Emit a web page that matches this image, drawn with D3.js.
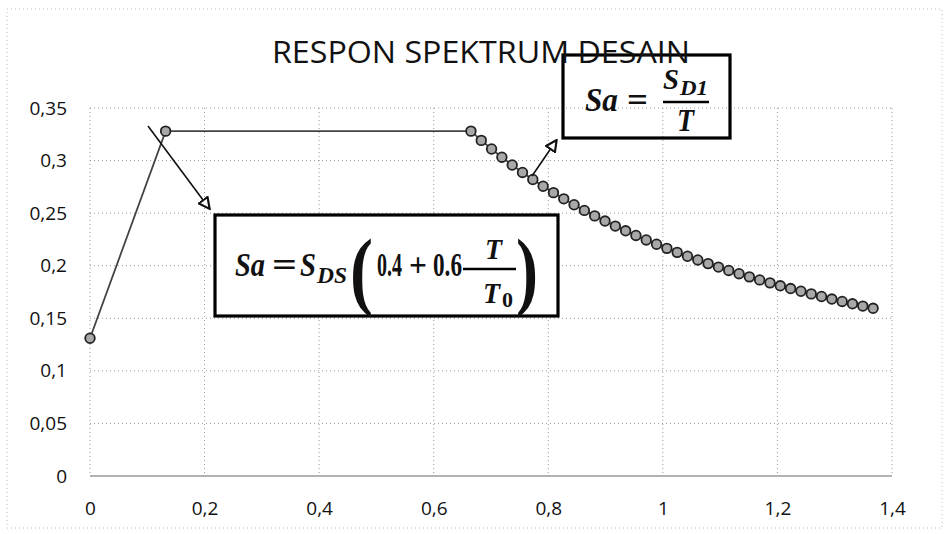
<!DOCTYPE html>
<html>
<head>
<meta charset="utf-8">
<script src="https://cdn.jsdelivr.net/npm/d3@7"></script>
<style>
  html, body { margin: 0; padding: 0; background: #fff; }
  svg { display: block; }
  .tick text { font-family: "Open Sans", sans-serif; font-size: 19px; fill: #111; }
  .math { font-family: "Liberation Serif", serif; font-weight: bold; font-style: italic; fill: #111; }
  .mathup { font-family: "Liberation Serif", serif; font-weight: bold; fill: #111; }
</style>
</head>
<body>
<svg id="chart" width="948" height="534"></svg>
<script>
// ---- Data ----
const chartTitle = "RESPON SPEKTRUM DESAIN";
const periodT = [0, 0.132, 0.665, 0.683, 0.701, 0.719, 0.737, 0.755, 0.773, 0.791, 0.809, 0.827,
  0.845, 0.863, 0.881, 0.899, 0.917, 0.935, 0.953, 0.971, 0.989, 1.007, 1.025, 1.043, 1.061,
  1.079, 1.097, 1.115, 1.133, 1.151, 1.169, 1.187, 1.205, 1.223, 1.241, 1.259, 1.277, 1.295,
  1.313, 1.331, 1.349, 1.367];
const spectralSa = [0.131, 0.328, 0.328, 0.3192, 0.3110, 0.3032, 0.2958, 0.2887, 0.2820, 0.2756,
  0.2695, 0.2636, 0.2580, 0.2526, 0.2474, 0.2425, 0.2377, 0.2332, 0.2288, 0.2245, 0.2204, 0.2165,
  0.2127, 0.2090, 0.2055, 0.2020, 0.1987, 0.1955, 0.1924, 0.1894, 0.1865, 0.1837, 0.1809, 0.1783,
  0.1757, 0.1732, 0.1707, 0.1683, 0.1660, 0.1638, 0.1616, 0.1595];
const xTicks = [0, 0.2, 0.4, 0.6, 0.8, 1, 1.2, 1.4];
const yTicks = [0, 0.05, 0.1, 0.15, 0.2, 0.25, 0.3, 0.35];

const points = periodT.map((t, i) => ({ t, sa: spectralSa[i] }));

const svg = d3.select("#chart");
const plot = { left: 90, right: 892, top: 108, bottom: 476 };

const x = d3.scaleLinear().domain([0, 1.4]).range([plot.left, plot.right]);
const y = d3.scaleLinear().domain([0, 0.35]).range([plot.bottom, plot.top]);
const fmt = d => String(+d.toFixed(2)).replace(".", ",");

// chart outer border (dotted, faint)
svg.append("rect").attr("x", 7).attr("y", 9).attr("width", 935).attr("height", 519)
  .attr("fill", "none").attr("stroke", "#bbb").attr("stroke-width", 1).attr("stroke-dasharray", "1,3");

// gridlines
svg.append("g").selectAll("line").data(yTicks.filter(d => d > 0)).join("line")
  .attr("x1", plot.left).attr("x2", plot.right)
  .attr("y1", d => y(d)).attr("y2", d => y(d))
  .attr("stroke", "#999").attr("stroke-width", 1).attr("stroke-dasharray", "1,3");
svg.append("g").selectAll("line").data(xTicks).join("line")
  .attr("x1", d => x(d)).attr("x2", d => x(d))
  .attr("y1", plot.top).attr("y2", plot.bottom)
  .attr("stroke", "#999").attr("stroke-width", 1).attr("stroke-dasharray", "1,3");

// x axis line
svg.append("line").attr("x1", plot.left).attr("x2", plot.right)
  .attr("y1", y(0)).attr("y2", y(0)).attr("stroke", "#666").attr("stroke-width", 1.2);

// axes (labels only)
const xAxis = svg.append("g").attr("transform", `translate(0,${plot.bottom + 22})`)
  .call(d3.axisBottom(x).tickValues(xTicks).tickFormat(fmt).tickSize(0));
xAxis.select(".domain").remove();
xAxis.selectAll("text").attr("dy", "0.71em");

const yAxis = svg.append("g").attr("transform", `translate(${plot.left - 23},0)`)
  .call(d3.axisLeft(y).tickValues(yTicks).tickFormat(fmt).tickSize(0));
yAxis.select(".domain").remove();
yAxis.selectAll("text").attr("x", 0);

// series line
const line = d3.line().x(d => x(d.t)).y(d => y(d.sa));
svg.append("path").datum(points).attr("d", line)
  .attr("fill", "none").attr("stroke", "#444").attr("stroke-width", 1.8);

// markers
svg.append("g").selectAll("circle").data(points).join("circle")
  .attr("cx", d => x(d.t)).attr("cy", d => y(d.sa)).attr("r", 4.8)
  .attr("fill", "#a8a8a8").attr("stroke", "#222").attr("stroke-width", 1.8);

// arrow marker
const defs = svg.append("defs");
defs.append("marker").attr("id", "arrow").attr("viewBox", "0 0 12 12")
  .attr("refX", 10).attr("refY", 6).attr("markerWidth", 13).attr("markerHeight", 13)
  .attr("markerUnits", "userSpaceOnUse").attr("orient", "auto")
  .append("path").attr("d", "M1,1 L11,6 L1,11 Z")
  .attr("fill", "#fff").attr("stroke", "#111").attr("stroke-width", 2);

svg.append("line").attr("x1", 148).attr("y1", 126).attr("x2", 209).attr("y2", 208)
  .attr("stroke", "#111").attr("stroke-width", 1.6).attr("marker-end", "url(#arrow)");
svg.append("line").attr("x1", 532).attr("y1", 176).attr("x2", 556).attr("y2", 141)
  .attr("stroke", "#111").attr("stroke-width", 1.6).attr("marker-end", "url(#arrow)");

function piece(g, cls, txt, x0, yb, fs, w, anchor) {
  const t = g.append("text").attr("class", cls).attr("x", x0).attr("y", yb)
    .attr("font-size", fs).text(txt);
  if (w) t.attr("textLength", w).attr("lengthAdjust", "spacingAndGlyphs");
  if (anchor) t.attr("text-anchor", anchor);
  return t;
}

// box 1: Sa = S_D1 / T
svg.append("rect").attr("x", 563).attr("y", 55).attr("width", 167).attr("height", 83)
  .attr("fill", "none").attr("stroke", "#000").attr("stroke-width", 3.2);
const b1 = svg.append("g");
piece(b1, "math", "Sa", 585, 111, 33, 33);
piece(b1, "mathup", "=", 627, 111, 33, 21);
piece(b1, "math", "S", 663, 89, 30, 16);
piece(b1, "math", "D1", 680, 95, 22, 28);
b1.append("line").attr("x1", 663).attr("x2", 709).attr("y1", 102).attr("y2", 102)
  .attr("stroke", "#000").attr("stroke-width", 2.4);
piece(b1, "math", "T", 677, 131, 31, 17);

// box 2: Sa = S_DS (0.4 + 0.6 T/T0)
svg.append("rect").attr("x", 215).attr("y", 215).attr("width", 343).attr("height", 101)
  .attr("fill", "#fff").attr("stroke", "#000").attr("stroke-width", 3.2);
const b2 = svg.append("g");
piece(b2, "math", "Sa", 235, 276, 33, 30);
piece(b2, "mathup", "=", 272, 276, 33, 25);
piece(b2, "math", "S", 300, 276, 33, 16);
piece(b2, "math", "DS", 317, 283, 23, 30);
piece(b2, "mathup", "(", 350, 299, 86, 23);
piece(b2, "mathup", "0.4", 377, 276, 33, 25);
piece(b2, "mathup", "+", 409, 276, 33, 18);
piece(b2, "mathup", "0.6", 433, 276, 33, 29);
piece(b2, "math", "T", 485, 259, 30, 17);
b2.append("line").attr("x1", 463).attr("x2", 516).attr("y1", 269).attr("y2", 269)
  .attr("stroke", "#000").attr("stroke-width", 2.4);
piece(b2, "math", "T", 483, 303, 30, 17);
piece(b2, "mathup", "0", 502, 307, 22, 11);
piece(b2, "mathup", ")", 516, 299, 86, 22);

// title (drawn above the box as in the reference)
svg.append("text").attr("x", 481).attr("y", 63).attr("text-anchor", "middle")
  .attr("font-family", "Open Sans, sans-serif").attr("font-size", 31).attr("fill", "#111")
  .attr("textLength", 418).attr("lengthAdjust", "spacingAndGlyphs")
  .text(chartTitle);
</script>
</body>
</html>
